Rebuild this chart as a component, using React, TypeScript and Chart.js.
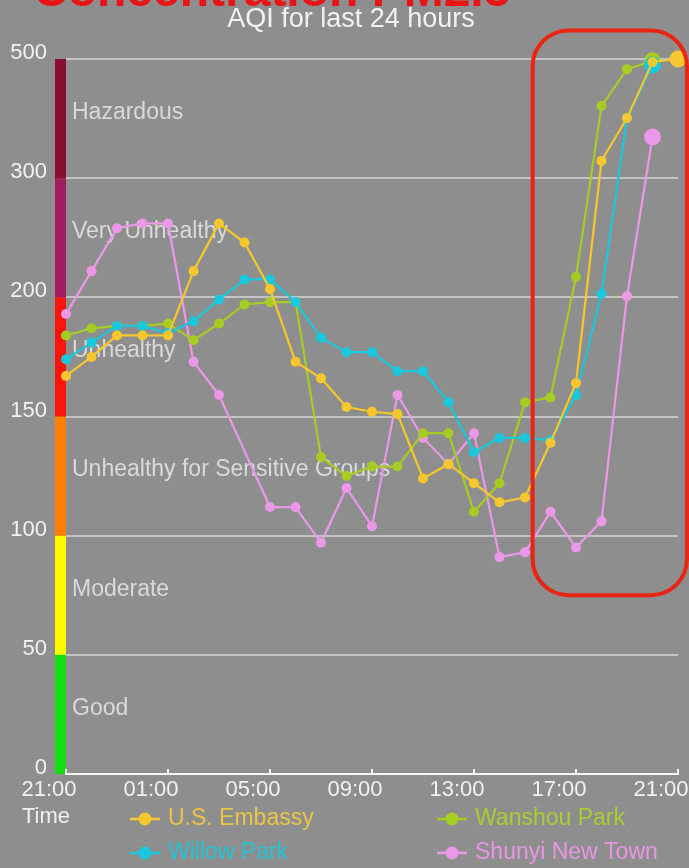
import React, { useEffect, useRef } from "react";
import { Chart, registerables } from "chart.js";

Chart.register(...registerables);

// ---------- data ----------
const hourLabels = [
  "21:00", "22:00", "23:00", "00:00", "01:00", "02:00", "03:00", "04:00",
  "05:00", "06:00", "07:00", "08:00", "09:00", "10:00", "11:00", "12:00",
  "13:00", "14:00", "15:00", "16:00", "17:00", "18:00", "19:00", "20:00", "21:00",
];
const yTickValues = [0, 50, 100, 150, 200, 300, 500];
const yTickLabels = ["0", "50", "100", "150", "200", "300", "500"];
const bandNames = [
  "Good",
  "Moderate",
  "Unhealthy for Sensitive Groups",
  "Unhealthy",
  "Very Unhealthy",
  "Hazardous",
];
const bandColors = [
  "rgb(20,222,20)",
  "rgb(255,250,0)",
  "rgb(255,128,0)",
  "rgb(250,22,10)",
  "rgb(160,28,95)",
  "rgb(135,16,48)",
];

const usEmbassy = [167, 175, 184, 184, 184, 222, 262, 246, 207, 173, 166, 154, 152, 151, 124, 130, 122, 114, 116, 139, 164, 329, 401, 495, 500];
const wanshouPark = [184, 187, 188, 188, 189, 182, 189, 197, 198, 198, 133, 125, 129, 129, 143, 143, 110, 122, 156, 158, 217, 421, 483, 497];
const willowPark = [174, 181, 188, 188, 185, 190, 199, 215, 215, 198, 183, 177, 177, 169, 169, 156, 135, 141, 141, 140, 159, 203, 401, 490];
const shunyiNewTown = [193, 222, 258, 262, 262, 173, 159, null, 112, 112, 97, 120, 104, 159, 141, 130, 143, 91, 93, 110, 95, 106, 201, 369];

const seriesNames = ["U.S. Embassy", "Wanshou Park", "Willow Park", "Shunyi New Town"];
const seriesColors = [
  "rgb(246,200,45)",
  "rgb(165,205,35)",
  "rgb(25,200,220)",
  "rgb(236,152,232)",
];
const legendTextColors = [
  "rgb(236,196,70)",
  "rgb(170,205,50)",
  "rgb(35,195,215)",
  "rgb(232,150,228)",
];

const chartTitle = "Concentration PM2.5";
const chartSubtitle = "AQI for last 24 hours";
const xAxisName = "Time";

// highlight box (in data terms)
const highlightFromHour = 18.3;
const highlightToHour = 24.35;
const highlightTopBand = 6.24;
const highlightBottomAQI = 75;

// ---------- helpers ----------
function toBand(v: number | null): number | null {
  if (v === null || v === undefined) return null;
  for (let k = 0; k < yTickValues.length - 1; k++) {
    if (v <= yTickValues[k + 1]) {
      return k + (v - yTickValues[k]) / (yTickValues[k + 1] - yTickValues[k]);
    }
  }
  return yTickValues.length - 1;
}

function lastIndex(arr: (number | null)[]) {
  for (let i = arr.length - 1; i >= 0; i--) if (arr[i] !== null) return i;
  return -1;
}

const FONT = "'Liberation Sans', Arial, Helvetica, sans-serif";

const decorPlugin = {
  id: "decor",
  beforeDraw(chart: any) {
    const { ctx, width, height } = chart;
    ctx.save();
    ctx.fillStyle = "rgb(142,142,142)";
    ctx.fillRect(0, 0, width, height);
    ctx.restore();
  },
  beforeDatasetsDraw(chart: any) {
    const { ctx, chartArea } = chart;
    const y = chart.scales.y;
    ctx.save();
    // AQI colour bar
    for (let k = 0; k < bandColors.length; k++) {
      const top = y.getPixelForValue(k + 1);
      const bot = y.getPixelForValue(k);
      ctx.fillStyle = bandColors[k];
      ctx.fillRect(chartArea.left - 11, top, 11, bot - top);
    }
    // band names
    ctx.font = `23px ${FONT}`;
    ctx.fillStyle = "rgba(222,222,222,0.95)";
    ctx.textBaseline = "middle";
    ctx.textAlign = "left";
    for (let k = 0; k < bandNames.length; k++) {
      ctx.fillText(bandNames[k], chartArea.left + 6, y.getPixelForValue(k + 0.5) - 6);
    }
    ctx.restore();
  },
  afterDatasetsDraw(chart: any) {
    const { ctx, chartArea } = chart;
    const x = chart.scales.x;
    const y = chart.scales.y;
    ctx.save();
    // x tick marks (upwards)
    ctx.strokeStyle = "rgb(245,245,245)";
    ctx.lineWidth = 2;
    for (let i = 0; i < hourLabels.length; i += 4) {
      const px = x.getPixelForValue(i);
      ctx.beginPath();
      ctx.moveTo(px, chartArea.bottom + 1);
      ctx.lineTo(px, chartArea.bottom - 5);
      ctx.stroke();
    }
    // highlight rounded rectangle
    const l = x.getPixelForValue(highlightFromHour);
    const r = x.getPixelForValue(highlightToHour);
    const t = y.getPixelForValue(highlightTopBand);
    const b = y.getPixelForValue(toBand(highlightBottomAQI));
    ctx.strokeStyle = "rgb(234,36,18)";
    ctx.lineWidth = 4;
    ctx.beginPath();
    (ctx as any).roundRect(l, t, r - l, b - t, 36);
    ctx.stroke();
    ctx.restore();
  },
  afterDraw(chart: any) {
    const { ctx, chartArea } = chart;
    ctx.save();
    // cut-off red title
    ctx.font = `bold 48px ${FONT}`;
    ctx.fillStyle = "rgb(232,20,22)";
    ctx.textAlign = "left";
    ctx.textBaseline = "alphabetic";
    ctx.fillText(chartTitle, 33, 6);
    // subtitle
    ctx.font = `27px ${FONT}`;
    ctx.fillStyle = "rgb(242,242,242)";
    ctx.textAlign = "center";
    ctx.fillText(chartSubtitle, 351, 27);
    // axis name
    ctx.font = `22px ${FONT}`;
    ctx.textAlign = "left";
    ctx.textBaseline = "middle";
    ctx.fillStyle = "rgb(240,240,240)";
    ctx.fillText(xAxisName, 22, chartArea.bottom + 43);
    // legend (2 x 2)
    const colX = [130, 437];
    const rowY = [chartArea.bottom + 45, chartArea.bottom + 79];
    ctx.font = `23px ${FONT}`;
    for (let i = 0; i < seriesNames.length; i++) {
      const cx = colX[i % 2];
      const cy = rowY[Math.floor(i / 2)];
      ctx.strokeStyle = seriesColors[i];
      ctx.lineWidth = 2.5;
      ctx.beginPath();
      ctx.moveTo(cx, cy);
      ctx.lineTo(cx + 30, cy);
      ctx.stroke();
      ctx.fillStyle = seriesColors[i];
      ctx.beginPath();
      ctx.arc(cx + 15, cy, 6.5, 0, Math.PI * 2);
      ctx.fill();
      ctx.fillStyle = legendTextColors[i];
      ctx.fillText(seriesNames[i], cx + 38, cy);
    }
    ctx.restore();
  },
};

export default function App() {
  const canvasRef = useRef<HTMLCanvasElement | null>(null);

  useEffect(() => {
    document.body.style.margin = "0";
    const canvas = canvasRef.current;
    if (!canvas) return;
    const series = [usEmbassy, wanshouPark, willowPark, shunyiNewTown];
    const orders = [0, 2, 1, 3];
    const datasets = series.map((s, i) => {
      const last = lastIndex(s as (number | null)[]);
      return {
        label: seriesNames[i],
        data: (s as (number | null)[]).map(toBand),
        borderColor: seriesColors[i],
        backgroundColor: seriesColors[i],
        pointBackgroundColor: seriesColors[i],
        pointBorderColor: seriesColors[i],
        pointBorderWidth: 0,
        borderWidth: 2.2,
        pointRadius: (c: any) => (c.dataIndex === last ? 8.5 : 5),
        pointHoverRadius: 6,
        spanGaps: true,
        tension: 0,
        clip: false,
        order: orders[i],
      };
    });

    const chart = new Chart(canvas, {
      type: "line",
      data: { labels: hourLabels, datasets: datasets as any },
      options: {
        animation: false,
        responsive: false,
        devicePixelRatio: 1,
        layout: {
          autoPadding: false,
          padding: { top: 59, bottom: 64, left: 0, right: 11 },
        },
        plugins: {
          legend: { display: false },
          title: { display: false },
          tooltip: { enabled: false },
        },
        scales: {
          x: {
            type: "category",
            offset: false,
            grid: { display: false, drawTicks: false },
            border: { display: true, color: "rgb(245,245,245)", width: 2 },
            ticks: {
              autoSkip: false,
              maxRotation: 0,
              minRotation: 0,
              padding: 3,
              labelOffset: -17,
              color: "rgb(242,242,242)",
              font: { size: 22, family: FONT },
              callback: (_v: any, idx: number) => (idx % 4 === 0 ? hourLabels[idx] : null),
            },
            afterFit: (s: any) => {
              s.height = 30;
              s.paddingLeft = 0;
              s.paddingRight = 0;
            },
          },
          y: {
            type: "linear",
            min: 0,
            max: yTickValues.length - 1,
            grid: { color: "rgb(196,196,196)", lineWidth: 2, drawTicks: false },
            border: { display: false },
            ticks: {
              stepSize: 1,
              padding: 19,
              labelOffset: -6,
              color: "rgb(242,242,242)",
              font: { size: 22, family: FONT },
              callback: (v: any) => yTickLabels[v as number],
            },
            afterFit: (s: any) => {
              s.width = 66;
              s.paddingTop = 0;
              s.paddingBottom = 0;
            },
          },
        },
      },
      plugins: [decorPlugin],
    });
    return () => chart.destroy();
  }, []);

  return (
    <div
      style={{
        position: "fixed",
        left: 0,
        top: 0,
        width: 689,
        height: 868,
        background: "rgb(142,142,142)",
        overflow: "hidden",
      }}
    >
      <canvas ref={canvasRef} width={689} height={868} style={{ display: "block" }} />
    </div>
  );
}
